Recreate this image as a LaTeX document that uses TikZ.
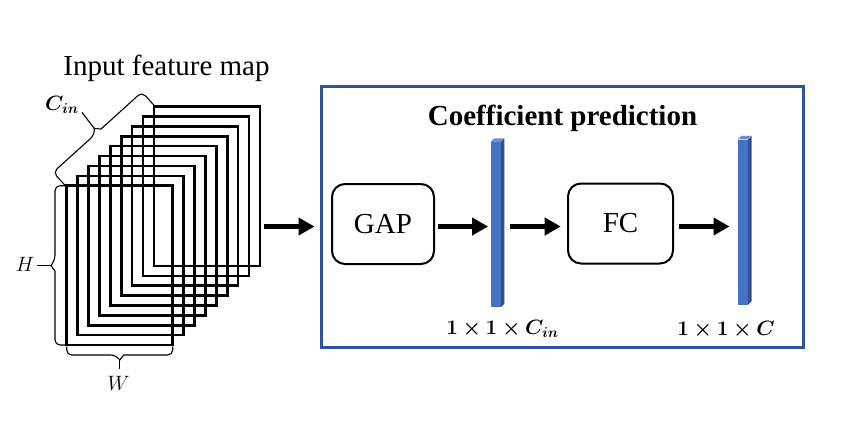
\documentclass[tikz,border=0pt]{standalone}
\usepackage{amsmath}
\usepackage{bm}
\usepackage{fontspec}
\setmainfont{Liberation Serif}
\usetikzlibrary{arrows.meta}
\definecolor{boxblue}{HTML}{2F5597}
\definecolor{barfrontc}{HTML}{4472C4}
\definecolor{barsidec}{HTML}{2F528F}
\definecolor{bartopc}{HTML}{6A8FD6}
\tikzset{
  fmap/.style={draw=black, line width=2.6pt},
  blockbox/.style={draw=black, line width=2pt, rounded corners=13pt, minimum width=102pt, minimum height=80pt, inner sep=0pt, font=\fontsize{29}{34}\selectfont},
  bigarrow/.style={line width=4.3pt, -{Triangle[length=16pt,width=17pt]}},
  bracepath/.style={draw=black, line width=1.1pt, rounded corners=5pt},
  tickline/.style={draw=black, line width=1.1pt},
  dimlabel/.style={font=\fontsize{19.5}{22}\selectfont, inner sep=0pt},
  barnode/.style={fill=barfrontc, draw=none, minimum width=10pt, minimum height=165pt, inner sep=0pt},
  titletext/.style={font=\fontsize{29}{34}\selectfont, inner sep=0pt, anchor=base},
  sizelabel/.style={font=\fontsize{21}{24}\selectfont, inner sep=0pt, anchor=base},
}
\begin{document}
\begin{tikzpicture}[x=1pt,y=-1pt]
\useasboundingbox (0,0) rectangle (858,428);
% title
\node[titletext] (title) at (166.5,75) {Input feature map};
% feature map stack
\foreach \i in {0,...,8} {
  \draw[fmap] (66.7+10.9*\i, 185.7-9.88*\i) rectangle ++(106,159.3);
}
\node[inner sep=0pt, minimum width=194pt, minimum height=238.3pt] (stack) at (163.7,225.9) {};
% C_in brace (diagonal)
\begin{scope}[shift={(66.7,185.7)}, rotate=42.14]
  \draw[bracepath] (-1,0) -- (-1,-19) -- (54.4,-19) [sharp corners] -- (58.9,-24) -- (63.4,-19) [rounded corners=5pt] -- (118.7,-19) -- (118.7,0);
  \coordinate (cintip) at (58.9,-24);
\end{scope}
\node[font=\fontsize{21}{23}\selectfont, inner sep=0pt] (cin) at (62,104.5) {$\bm{C_{in}}$};
\draw[tickline] (cintip) -- ([shift={(3,-1)}]cin.south east);
% H brace
\draw[bracepath] (65,185.7) -- (55,185.7) -- (55,260) [sharp corners] -- (51,265.5) -- (55,271) [rounded corners=5pt] -- (55,345) -- (65,345);
\coordinate (htip) at (51,265.5);
\node[dimlabel] (hlab) at (25,264.5) {$H$};
\draw[tickline] (htip) -- ([xshift=3pt]hlab.east |- htip);
% W brace
\draw[bracepath] (66.7,346.5) -- (66.7,355) -- (115.7,355) [sharp corners] -- (119.7,360) -- (123.7,355) [rounded corners=5pt] -- (172.7,355) -- (172.7,346.5);
\coordinate (wtip) at (119.7,360);
\node[dimlabel] (wlab) at (118.5,383) {$W$};
\draw[tickline] (wtip) -- (wtip |- 0,369);
% coefficient prediction box
\node[draw=boxblue, line width=3pt, minimum width=482pt, minimum height=261pt, inner sep=0pt] (box) at (562,216.5) {};
\node[titletext, font=\bfseries\fontsize{29}{34}\selectfont] (ctitle) at (562.5,125) {Coefficient prediction};
% blocks
\node[blockbox] (gap) at (383,224) {GAP};
\node[blockbox, minimum width=105pt] (fc) at (620.5,223.5) {FC};
% bars
\node[barnode] (bar1) at (495.7,224.5) {};
\fill[barsidec] (bar1.north east) -- ++(3.5,-3.5) -- ([shift={(3.5,-3.5)}]bar1.south east) -- (bar1.south east) -- cycle;
\fill[bartopc] (bar1.north west) -- ++(3.5,-3.5) -- ++(10,0) -- (bar1.north east) -- cycle;
\node[barnode] (bar2) at (743,222) {};
\fill[barsidec] (bar2.north east) -- ++(3.5,-3.5) -- ([shift={(3.5,-3.5)}]bar2.south east) -- (bar2.south east) -- cycle;
\fill[bartopc] (bar2.north west) -- ++(3.5,-3.5) -- ++(10,0) -- (bar2.north east) -- cycle;
% size labels
\node[sizelabel] (lab1) at (502.5,334) {$\bm{1\times 1\times C_{in}}$};
\node[sizelabel] (lab2) at (726,335) {$\bm{1\times 1\times C}$};
% arrows
\coordinate (arrowrow) at (0,226.5);
\draw[bigarrow, shorten <=3.3pt, shorten >=5pt] (stack.east |- arrowrow) -- (box.west |- arrowrow);
\draw[bigarrow, shorten <=2.7pt, shorten >=2.4pt] (gap.east |- arrowrow) -- (bar1.west |- arrowrow);
\draw[bigarrow, shorten <=9.5pt, shorten >=6.3pt] (bar1.east |- arrowrow) -- (fc.west |- arrowrow);
\draw[bigarrow, shorten <=5.3pt, shorten >=8.3pt] (fc.east |- arrowrow) -- (bar2.west |- arrowrow);
\end{tikzpicture}
\end{document}
